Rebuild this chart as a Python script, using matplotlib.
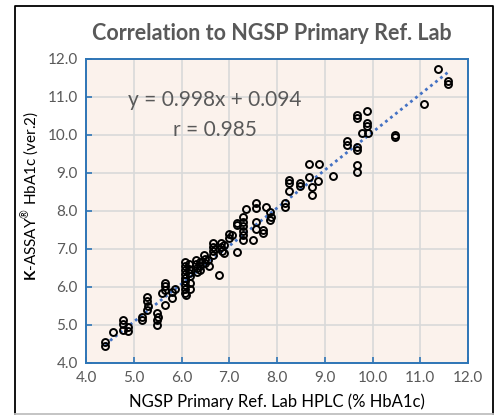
import matplotlib
matplotlib.use("Agg")
import matplotlib.pyplot as plt
from matplotlib.lines import Line2D
import numpy as np

# ------------------------------------------------------------------
# Datos (NGSP HPLC vs K-ASSAY ver.2)
# ------------------------------------------------------------------
ngsp = [4.40, 4.40, 4.57, 4.78, 4.78, 4.78, 4.88, 4.88,
        5.17, 5.17, 5.27, 5.27, 5.27, 5.30, 5.48, 5.48, 5.48, 5.50,
        5.59, 5.65, 5.65, 5.65, 5.65, 5.80, 5.80, 5.86,
        6.08, 6.08, 6.08, 6.08, 6.08, 6.08, 6.08, 6.08, 6.08, 6.10,
        6.15, 6.15, 6.15, 6.18, 6.18, 6.18,
        6.30, 6.30, 6.32, 6.32, 6.38, 6.38, 6.38,
        6.48, 6.50, 6.50, 6.55, 6.58,
        6.65, 6.65, 6.65, 6.65, 6.70, 6.79,
        6.82, 6.82, 6.85, 6.88, 6.88,
        7.00, 7.00, 7.05, 7.16, 7.16, 7.16,
        7.28, 7.28, 7.28, 7.28, 7.28, 7.28,
        7.36, 7.49, 7.56, 7.56, 7.56, 7.56, 7.70, 7.70, 7.78, 7.85, 7.85, 7.88,
        8.17, 8.17, 8.25, 8.25, 8.25, 8.48, 8.48,
        8.67, 8.68, 8.73, 8.73, 8.88, 8.85,
        9.17, 9.47, 9.47, 9.67, 9.67, 9.67, 9.67, 9.67, 9.67,
        9.88, 9.88, 9.88, 9.78, 9.90, 10.47, 10.47,
        11.08, 11.37, 11.58, 11.58]
kassay = [4.45, 4.55, 4.82, 5.13, 5.03, 4.87, 4.95, 4.85,
          5.22, 5.13, 5.73, 5.64, 5.40, 5.50, 5.32, 5.13, 5.00, 5.22,
          5.84, 6.10, 6.02, 5.92, 5.53, 5.86, 5.70, 5.95,
          6.65, 6.55, 6.45, 6.35, 6.25, 6.15, 6.05, 5.95, 5.85, 5.78,
          6.60, 6.48, 6.38, 6.28, 6.10, 5.95,
          6.70, 6.60, 6.50, 6.40, 6.65, 6.55, 6.45,
          6.85, 6.75, 6.62, 6.70, 6.55,
          7.15, 7.05, 6.95, 6.85, 7.00, 6.32,
          7.15, 7.05, 6.95, 7.10, 6.90,
          7.40, 7.30, 7.37, 6.93, 7.63, 7.68,
          7.85, 7.72, 7.60, 7.48, 7.36, 7.25,
          8.05, 7.24, 8.20, 8.08, 7.72, 7.52, 7.50, 7.42, 8.11, 7.98, 7.76, 7.85,
          8.20, 8.10, 8.82, 8.75, 8.53, 8.73, 8.65,
          9.24, 8.90, 8.63, 8.42, 9.24, 8.80,
          8.92, 9.84, 9.75, 10.53, 10.45, 9.68, 9.60, 9.21, 9.03,
          10.63, 10.32, 10.25, 10.05, 10.05, 10.00, 9.95,
          10.82, 11.74, 11.43, 11.35]

pendiente, ordenada, r_val = 0.998, 0.094, 0.985
ticks = [4.0, 5.0, 6.0, 7.0, 8.0, 9.0, 10.0, 11.0, 12.0]

GRIS = "#595959"
AZUL = "#2E75B6"

plt.rcParams["font.family"] = ["Lato", "DejaVu Sans"]
plt.rcParams["mathtext.fontset"] = "custom"
plt.rcParams["mathtext.rm"] = "Lato"
plt.rcParams["mathtext.bf"] = "Lato:bold"

W, H = 499, 416
fig = plt.figure(figsize=(W / 100, H / 100), dpi=100)
ax = fig.add_axes([86 / W, (H - 363) / H, 382 / W, 304 / H])
ax.set_facecolor("#FBF2EC")

ax.set_xlim(4, 12)
ax.set_ylim(4, 12)
ax.set_xticks(ticks)
ax.set_yticks(ticks)
ax.set_xticklabels([f"{t:.1f}" for t in ticks])
ax.set_yticklabels([f"{t:.1f}" for t in ticks])
ax.grid(color="#D9D9D9", lw=1.2)
ax.set_axisbelow(True)
for s in ax.spines.values():
    s.set_color(AZUL)
    s.set_linewidth(1.4)
ax.tick_params(direction="in", length=4, width=1.2, color=AZUL,
               labelcolor=GRIS, labelsize=11, pad=6)

# recta de regresion (linea de tendencia)
xr = np.array([min(ngsp), max(ngsp)])
ax.plot(xr, pendiente * xr + ordenada, color="#4472C4", lw=2,
        ls=(0, (1, 1.3)), zorder=2)

ax.plot(ngsp, kassay, "o", ms=5, mfc="none", mec="black", mew=1.4, zorder=3)

ax.text(0.338, 0.865, f"y = {pendiente:.3f}x + {ordenada:.3f}", transform=ax.transAxes,
        ha="center", va="center", fontsize=15, color=GRIS)
ax.text(0.338, 0.766, f"r = {r_val:.3f}", transform=ax.transAxes,
        ha="center", va="center", fontsize=15, color=GRIS)

fig.text(272 / W, 1 - 33 / H, "Correlation to NGSP Primary Ref. Lab",
         ha="center", va="center", fontsize=15.5, fontweight="bold", color=GRIS)
fig.text(277 / W, 1 - 402 / H, "NGSP Primary Ref. Lab HPLC (% HbA1c)",
         ha="center", va="center", fontsize=12, color="black")
fig.text(30 / W, 1 - 196 / H, r"$\mathbf{K}$-ASSAY$^{\circledR}$ HbA1c (ver.2)",
         ha="center", va="center", rotation=90, fontsize=11, color="black")

# marco exterior
fig.add_artist(Line2D([15 / W, 15 / W, 493 / W, 493 / W],
                      [1 - 414 / H, 1 - 6 / H, 1 - 6 / H, 1 - 414 / H],
                      color="black", lw=1.3))
fig.add_artist(Line2D([15 / W, 493 / W], [1 - 414 / H, 1 - 414 / H],
                      color="#BFBFBF", lw=1.3))

fig.savefig("out.png", dpi=100)
